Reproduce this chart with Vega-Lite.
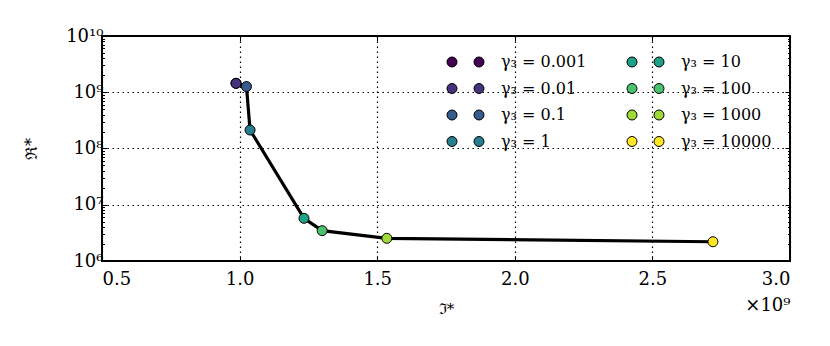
{
  "$schema": "https://vega.github.io/schema/vega-lite/v6.json",
  "autosize": {"type": "none"},
  "padding": {"left": 102, "top": 36, "right": 40, "bottom": 85},
  "width": 688,
  "height": 225,
  "background": "white",
  "title": {"text": "×10⁹", "orient": "bottom", "anchor": "end", "offset": -19, "font": "DejaVu Serif", "fontSize": 18, "fontWeight": "normal", "color": "black"},
  "config": {
    "view": {"stroke": "black", "strokeWidth": 2},
    "axis": {"labelFont": "DejaVu Serif", "labelFontSize": 18, "labelColor": "black", "titleFont": "DejaVu Serif", "titleFontWeight": "normal", "titleColor": "black", "domain": false, "tickColor": "black", "tickWidth": 1}
  },
  "data": {"values": [
    {"g": 0.001, "label": "γ₃ = 0.001", "J": 987000000, "R": 1440000000},
    {"g": 0.01, "label": "γ₃ = 0.01", "J": 987000000, "R": 1440000000},
    {"g": 0.1, "label": "γ₃ = 0.1", "J": 1025000000, "R": 1260000000},
    {"g": 1, "label": "γ₃ = 1", "J": 1038000000, "R": 213000000},
    {"g": 10, "label": "γ₃ = 10", "J": 1234000000, "R": 5740000},
    {"g": 100, "label": "γ₃ = 100", "J": 1300000000, "R": 3460000},
    {"g": 1000, "label": "γ₃ = 1000", "J": 1535000000, "R": 2530000},
    {"g": 10000, "label": "γ₃ = 10000", "J": 2720000000, "R": 2200000}
  ]},
  "layer": [
    {
      "mark": {"type": "line", "color": "black", "strokeWidth": 3.2},
      "encoding": {
        "x": {"field": "J", "type": "quantitative", "scale": {"domain": [500000000, 3000000000], "nice": false, "zero": false},
          "axis": {"orient": "bottom", "values": [500000000, 1000000000, 1500000000, 2000000000, 2500000000, 3000000000], "labelExpr": "format(datum.value/1e9, '.1f')", "grid": true, "gridColor": "black", "gridDash": [1.5, 3.5], "gridWidth": 1.2, "tickSize": -5, "labelPadding": 14, "title": "ℑ*", "titleFontSize": 15, "titlePadding": 13}},
        "y": {"field": "R", "type": "quantitative", "scale": {"type": "log", "domain": [1000000, 10000000000], "nice": false},
          "axis": {"orient": "left", "values": [1000000, 2000000, 3000000, 4000000, 5000000, 6000000, 7000000, 8000000, 9000000, 10000000, 20000000, 30000000, 40000000, 50000000, 60000000, 70000000, 80000000, 90000000, 100000000, 200000000, 300000000, 400000000, 500000000, 600000000, 700000000, 800000000, 900000000, 1000000000, 2000000000, 3000000000, 4000000000, 5000000000, 6000000000, 7000000000, 8000000000, 9000000000, 10000000000],
            "labelExpr": "datum.value == 1e6 ? '10⁶' : datum.value == 1e7 ? '10⁷' : datum.value == 1e8 ? '10⁸' : datum.value == 1e9 ? '10⁹' : datum.value == 1e10 ? '10¹⁰' : ''",
            "grid": true, "gridColor": "black", "gridDash": [1.5, 3.5], "gridWidth": 1.2,
            "gridOpacity": {"condition": {"test": "indexof([1e7,1e8,1e9], datum.value) >= 0", "value": 1}, "value": 0},
            "tickSize": {"condition": {"test": "indexof([1e6,1e7,1e8,1e9,1e10], datum.value) >= 0", "value": -5}, "value": -2.5},
            "labelPadding": 4, "title": "ℜ*", "titleFontSize": 16, "titlePadding": 26}},
        "order": {"field": "g", "type": "quantitative"}
      }
    },
    {
      "mark": {"type": "point", "filled": true, "size": 100, "stroke": "black", "strokeWidth": 1, "opacity": 1},
      "encoding": {
        "x": {"field": "J", "type": "quantitative", "axis": {"orient": "top", "values": [500000000, 1000000000, 1500000000, 2000000000, 2500000000, 3000000000], "labels": false, "grid": false, "tickSize": -5, "title": null}},
        "y": {"field": "R", "type": "quantitative", "axis": {"orient": "right", "values": [1000000, 2000000, 3000000, 4000000, 5000000, 6000000, 7000000, 8000000, 9000000, 10000000, 20000000, 30000000, 40000000, 50000000, 60000000, 70000000, 80000000, 90000000, 100000000, 200000000, 300000000, 400000000, 500000000, 600000000, 700000000, 800000000, 900000000, 1000000000, 2000000000, 3000000000, 4000000000, 5000000000, 6000000000, 7000000000, 8000000000, 9000000000, 10000000000], "labels": false, "grid": false,
          "tickSize": {"condition": {"test": "indexof([1e6,1e7,1e8,1e9,1e10], datum.value) >= 0", "value": -5}, "value": -2.5}, "title": null}},
        "color": {"field": "label", "type": "nominal",
          "scale": {"domain": ["γ₃ = 0.001", "γ₃ = 0.01", "γ₃ = 0.1", "γ₃ = 1", "γ₃ = 10", "γ₃ = 100", "γ₃ = 1000", "γ₃ = 10000"],
                    "range": ["#440154", "#46327e", "#365c8d", "#277f8e", "#1fa187", "#4ac16d", "#a0da39", "#fde725"]},
          "legend": {"orient": "top-right", "offset": 18, "columns": 2, "title": null,
            "symbolType": "M 1 0 C 1 0.5523 0.5523 1 0 1 C -0.5523 1 -1 0.5523 -1 0 C -1 -0.5523 -0.5523 -1 0 -1 C 0.5523 -1 1 -0.5523 1 0 Z M 6.4 0 C 6.4 0.5523 5.9523 1 5.4 1 C 4.8477 1 4.4 0.5523 4.4 0 C 4.4 -0.5523 4.8477 -1 5.4 -1 C 5.9523 -1 6.4 -0.5523 6.4 0 Z",
            "symbolSize": 100, "symbolStrokeColor": "black", "symbolStrokeWidth": 1, "symbolOpacity": 1,
            "labelFont": "DejaVu Serif", "labelFontSize": 16, "labelColor": "black", "labelOffset": 41,
            "columnPadding": 37, "rowPadding": 10.5}}
      }
    }
  ],
  "resolve": {"axis": {"x": "independent", "y": "independent"}}
}
